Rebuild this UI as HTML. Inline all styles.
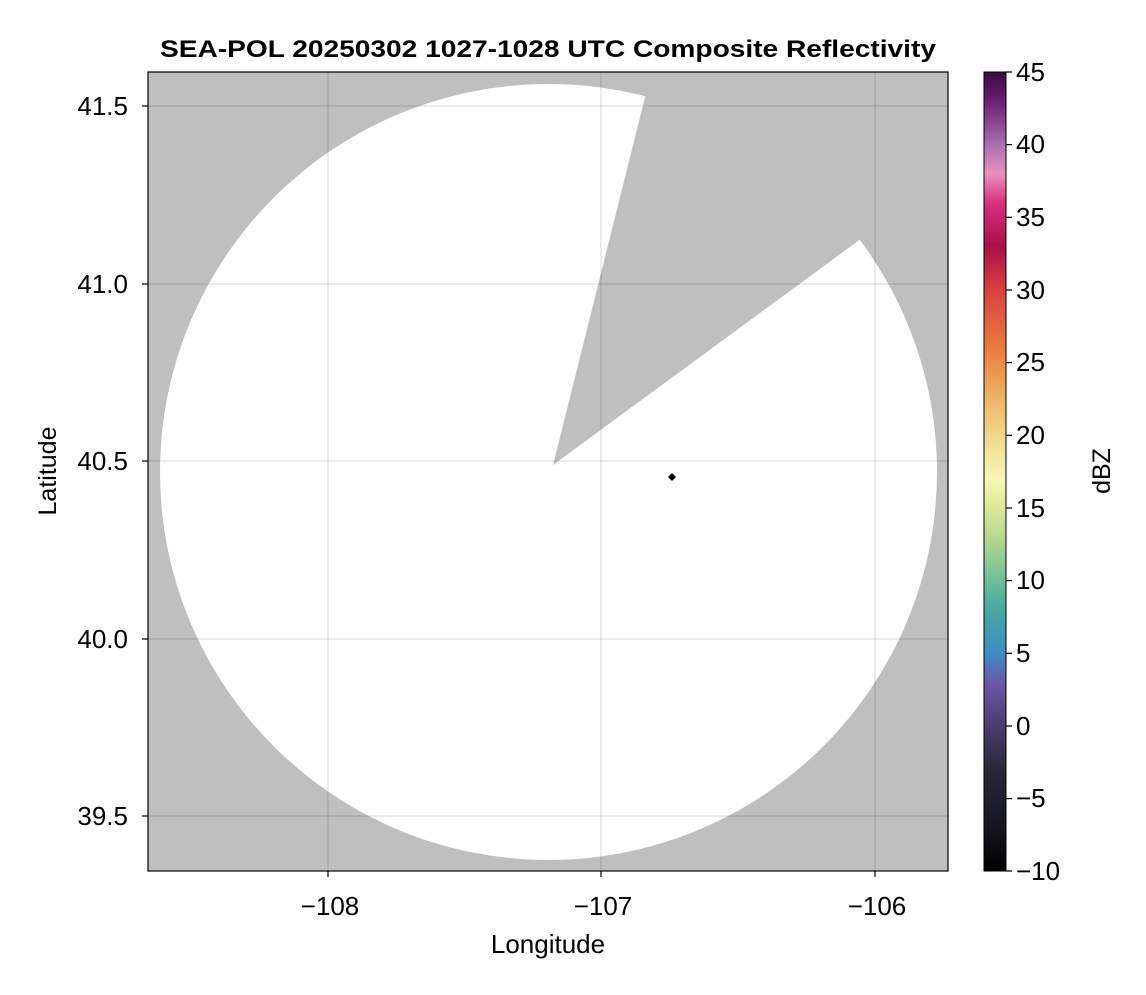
<!DOCTYPE html>
<html><head><style>
body{margin:0;background:#fff;}
svg text{font-family:"Liberation Sans",Arial,sans-serif;}
</style></head><body>
<svg width="1146" height="990" xmlns="http://www.w3.org/2000/svg">
<defs>
<clipPath id="pa"><rect x="148" y="72" width="800" height="799"/></clipPath>
<linearGradient id="cb" x1="0" y1="1" x2="0" y2="0">
<stop offset="0" stop-color="#000000"/>
<stop offset="0.055" stop-color="#151520"/>
<stop offset="0.127" stop-color="#2a2838"/>
<stop offset="0.182" stop-color="#4a3d70"/>
<stop offset="0.236" stop-color="#6a58a8"/>
<stop offset="0.273" stop-color="#3f8cc4"/>
<stop offset="0.327" stop-color="#48a8a0"/>
<stop offset="0.364" stop-color="#6ebf98"/>
<stop offset="0.418" stop-color="#b8d890"/>
<stop offset="0.455" stop-color="#dde898"/>
<stop offset="0.49" stop-color="#f7f7b5"/>
<stop offset="0.545" stop-color="#f0d88a"/>
<stop offset="0.6" stop-color="#ecad60"/>
<stop offset="0.655" stop-color="#ec7a40"/>
<stop offset="0.727" stop-color="#d84040"/>
<stop offset="0.782" stop-color="#a81048"/>
<stop offset="0.836" stop-color="#d83080"/>
<stop offset="0.873" stop-color="#e890c0"/>
<stop offset="0.909" stop-color="#a870b0"/>
<stop offset="0.964" stop-color="#6a2070"/>
<stop offset="1" stop-color="#3a0a40"/>
</linearGradient>
</defs>
<text x="548" y="57" font-size="24" font-weight="bold" text-anchor="middle" textLength="776" lengthAdjust="spacingAndGlyphs">SEA-POL 20250302 1027-1028 UTC Composite Reflectivity</text>
<g clip-path="url(#pa)">
<rect x="148" y="72" width="800" height="799" fill="#bfbfbf"/>
<ellipse cx="548.5" cy="472" rx="388.5" ry="388" fill="#fff"/>
<polygon points="553,465 645,97 660,40 1000,40 1000,100 858,241" fill="#bfbfbf"/>
<g stroke="#000" stroke-opacity="0.1" stroke-width="1.5">
<line x1="328" y1="72" x2="328" y2="871"/><line x1="601" y1="72" x2="601" y2="871"/><line x1="875" y1="72" x2="875" y2="871"/>
<line x1="148" y1="106" x2="948" y2="106"/><line x1="148" y1="284" x2="948" y2="284"/><line x1="148" y1="461" x2="948" y2="461"/><line x1="148" y1="639" x2="948" y2="639"/><line x1="148" y1="816" x2="948" y2="816"/>
</g>
<polygon points="672,473 676,477 672,481 668,477" fill="#000"/>
</g>
<rect x="148" y="72" width="800" height="799" fill="none" stroke="#000" stroke-width="1.2"/>
<g stroke="#000" stroke-width="1.2">
<line x1="328" y1="871" x2="328" y2="877"/><line x1="601" y1="871" x2="601" y2="877"/><line x1="875" y1="871" x2="875" y2="877"/>
<line x1="142" y1="106" x2="148" y2="106"/><line x1="142" y1="284" x2="148" y2="284"/><line x1="142" y1="461" x2="148" y2="461"/><line x1="142" y1="639" x2="148" y2="639"/><line x1="142" y1="816" x2="148" y2="816"/>
</g>
<g font-size="26" text-anchor="middle">
<text x="330" y="915">−108</text><text x="603" y="915">−107</text><text x="877" y="915">−106</text>
<text x="548" y="953">Longitude</text>
</g>
<g font-size="26" text-anchor="end">
<text x="128" y="115">41.5</text><text x="128" y="293">41.0</text><text x="128" y="470">40.5</text><text x="128" y="648">40.0</text><text x="128" y="825">39.5</text>
</g>
<text transform="translate(56,471) rotate(-90)" font-size="25" text-anchor="middle">Latitude</text>
<rect x="984" y="72" width="22" height="799" fill="url(#cb)" stroke="#000" stroke-width="1"/>
<g stroke="#000" stroke-width="1.2">
<line x1="1006" y1="72" x2="1012" y2="72"/><line x1="1006" y1="144.6" x2="1012" y2="144.6"/><line x1="1006" y1="217.3" x2="1012" y2="217.3"/><line x1="1006" y1="290" x2="1012" y2="290"/><line x1="1006" y1="362.6" x2="1012" y2="362.6"/><line x1="1006" y1="435.3" x2="1012" y2="435.3"/><line x1="1006" y1="508" x2="1012" y2="508"/><line x1="1006" y1="580.6" x2="1012" y2="580.6"/><line x1="1006" y1="653.3" x2="1012" y2="653.3"/><line x1="1006" y1="726" x2="1012" y2="726"/><line x1="1006" y1="798.6" x2="1012" y2="798.6"/><line x1="1006" y1="871" x2="1012" y2="871"/>
</g>
<g font-size="26">
<text x="1016" y="81">45</text><text x="1016" y="153">40</text><text x="1016" y="226">35</text><text x="1016" y="299">30</text><text x="1016" y="371">25</text><text x="1016" y="444">20</text><text x="1016" y="517">15</text><text x="1016" y="589">10</text><text x="1016" y="662">5</text><text x="1016" y="735">0</text><text x="1016" y="807">−5</text><text x="1016" y="880">−10</text>
</g>
<text transform="translate(1110,471) rotate(-90)" font-size="25" text-anchor="middle">dBZ</text>
</svg>
</body></html>
